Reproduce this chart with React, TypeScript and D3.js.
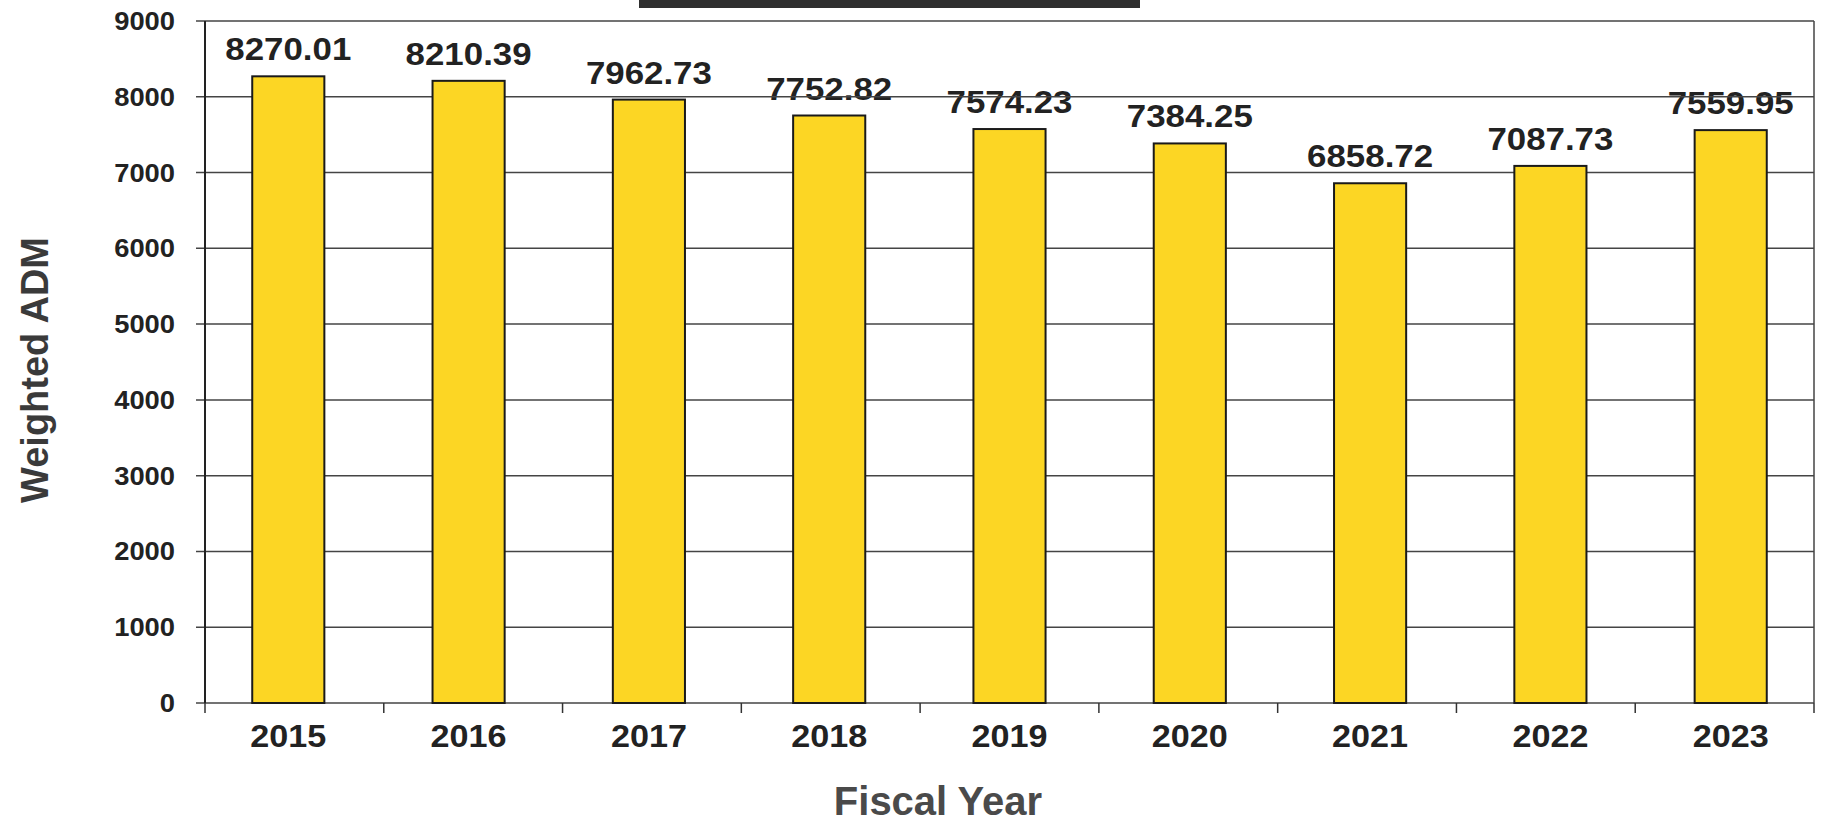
import React from "react";
import * as d3 from "d3";

const years = ["2015", "2016", "2017", "2018", "2019", "2020", "2021", "2022", "2023"];
const values = [8270.01, 8210.39, 7962.73, 7752.82, 7574.23, 7384.25, 6858.72, 7087.73, 7559.95];
const valueLabels = ["8270.01", "8210.39", "7962.73", "7752.82", "7574.23", "7384.25", "6858.72", "7087.73", "7559.95"];
const yTicks = [0, 1000, 2000, 3000, 4000, 5000, 6000, 7000, 8000, 9000];

const W = 1828;
const H = 826;
const left = 205;
const right = 1814;
const top = 21;
const bottom = 703;
const font = "'Liberation Sans', Arial, sans-serif";

export default function App() {
  const x = d3.scaleBand<string>().domain(years).range([left, right]).paddingInner(0.6).paddingOuter(0.262);
  const xb = d3.scaleBand<string>().domain(years).range([left, right]).padding(0);
  const y = d3.scaleLinear().domain([0, 9000]).range([bottom, top]);

  return (
    <svg width={W} height={H} style={{ position: "absolute", left: 0, top: 0, background: "#fff" }}>
      <rect x={0} y={0} width={W} height={H} fill="#fff" />
      {/* partial title box at top */}
      <rect x={639} y={0} width={501} height={8} fill="#2f2f2f" />
      {/* value labels (drawn beneath gridlines) */}
      {years.map((yr, i) => (
        <text
          key={"v" + yr}
          x={(x(yr) ?? 0) + x.bandwidth() / 2}
          y={y(values[i]) - 16}
          textAnchor="middle"
          fontFamily={font}
          fontWeight="bold"
          fontSize={31}
          fill="#222"
          textLength={126}
          lengthAdjust="spacingAndGlyphs"
        >
          {valueLabels[i]}
        </text>
      ))}
      {/* gridlines */}
      {yTicks.map((t) => (
        <line key={"g" + t} x1={left - 9} x2={right} y1={y(t)} y2={y(t)} stroke="#444" strokeWidth={1.5} />
      ))}
      {/* right border */}
      <line x1={right} x2={right} y1={top} y2={bottom} stroke="#444" strokeWidth={1.5} />
      {/* y axis */}
      <line x1={left} x2={left} y1={top} y2={bottom} stroke="#222" strokeWidth={2} />
      {/* x ticks */}
      {years.map((yr) => (
        <line key={"xt" + yr} x1={xb(yr) ?? 0} x2={xb(yr) ?? 0} y1={bottom} y2={bottom + 10} stroke="#333" strokeWidth={1.5} />
      ))}
      <line x1={right} x2={right} y1={bottom} y2={bottom + 10} stroke="#333" strokeWidth={1.5} />
      {/* bars */}
      {years.map((yr, i) => (
        <rect
          key={"b" + yr}
          x={x(yr)}
          y={y(values[i])}
          width={x.bandwidth()}
          height={bottom - y(values[i])}
          fill="#FCD624"
          stroke="#1a1a1a"
          strokeWidth={2}
        />
      ))}
      {/* y tick labels */}
      {yTicks.map((t) => (
        <text
          key={"yl" + t}
          x={175}
          y={y(t) + 9}
          textAnchor="end"
          fontFamily={font}
          fontWeight="bold"
          fontSize={26}
          fill="#222"
          textLength={String(t).length * 15.2}
          lengthAdjust="spacingAndGlyphs"
        >
          {t}
        </text>
      ))}
      {/* x tick labels */}
      {years.map((yr) => (
        <text
          key={"xl" + yr}
          x={(x(yr) ?? 0) + x.bandwidth() / 2}
          y={747}
          textAnchor="middle"
          fontFamily={font}
          fontWeight="bold"
          fontSize={32}
          fill="#222"
          textLength={76}
          lengthAdjust="spacingAndGlyphs"
        >
          {yr}
        </text>
      ))}
      {/* axis titles */}
      <text
        transform={`translate(48, 370) rotate(-90)`}
        textAnchor="middle"
        fontFamily={font}
        fontWeight="bold"
        fontSize={38}
        fill="#3a3a3a"
      >
        Weighted ADM
      </text>
      <text x={938} y={815} textAnchor="middle" fontFamily={font} fontWeight="bold" fontSize={40} fill="#4a4a4a">
        Fiscal Year
      </text>
    </svg>
  );
}
